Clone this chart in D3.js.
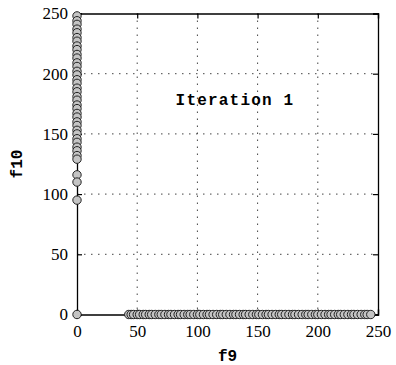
<!DOCTYPE html>
<html>
<head>
<meta charset="utf-8">
<script src="https://cdn.jsdelivr.net/npm/d3@7"></script>
<style>
  html, body { margin: 0; padding: 0; background: #fff; }
  svg { display: block; }
</style>
</head>
<body>
<script>
// Solutions lying on the f9 axis (f10 = 0)
const f9Branch = [43, 45, 47, 50, 52, 55, 57, 60, 62, 65, 68, 70, 73, 76, 78, 81, 84, 86, 89, 92,
  94, 97, 100, 102, 105, 108, 110, 113, 116, 119, 121, 124, 127, 130, 132, 135, 138, 140, 143, 146,
  149, 151, 154, 157, 159, 162, 165, 168, 170, 173, 176, 179, 181, 184, 187, 190, 192, 195, 198,
  200, 203, 206, 209, 211, 214, 217, 219, 222, 225, 228, 230, 233, 236, 239, 241, 244];
// Solutions lying on the f10 axis (f9 = 0)
const f10Branch = [248, 244, 241, 237, 234, 230, 227, 223, 220, 216, 213, 209, 206, 202, 199, 195,
  192, 188, 185, 181, 178, 174, 171, 167, 164, 160, 157, 153, 150, 146, 143, 139, 136, 132, 129,
  116, 110, 95];
// Single point at the origin
const originPoint = [0, 0];

const xTicks = [0, 50, 100, 150, 200, 250];
const yTicks = [0, 50, 100, 150, 200, 250];
const xLabel = "f9";
const yLabel = "f10";
const panelTitle = "Iteration 1";

const W = 396, H = 365;
const plotL = 77, plotR = 378, plotT = 13.5, plotB = 314.5;

const points = [originPoint]
  .concat(f9Branch.map(v => [v, 0]))
  .concat(f10Branch.map(v => [0, v]));

const x = d3.scaleLinear().domain([0, 250]).range([plotL, plotR]);
const y = d3.scaleLinear().domain([0, 250]).range([plotB, plotT]);

const svg = d3.select("body").append("svg")
  .attr("width", W).attr("height", H);

svg.append("rect").attr("width", W).attr("height", H).attr("fill", "#fff");

// dotted grid
const grid = svg.append("g").attr("stroke", "#444").attr("stroke-width", 1)
  .attr("stroke-dasharray", "1.5,5.5");
grid.selectAll("line.gx").data(xTicks.slice(1, -1)).join("line")
  .attr("class", "gx")
  .attr("x1", d => x(d)).attr("x2", d => x(d))
  .attr("y1", plotT).attr("y2", plotB);
grid.selectAll("line.gy").data(yTicks.slice(1, -1)).join("line")
  .attr("class", "gy")
  .attr("y1", d => y(d)).attr("y2", d => y(d))
  .attr("x1", plotL).attr("x2", plotR);

// axes with inward ticks on all four sides
const tickLen = 5;
const serif = "'Liberation Serif'";
const axisStyle = g => {
  g.attr("font-family", serif).attr("font-size", 17);
  g.select(".domain").attr("stroke", "#000").attr("stroke-width", 1.3);
  g.selectAll(".tick line").attr("stroke", "#000").attr("stroke-width", 1.2);
  g.selectAll(".tick text").attr("fill", "#000").attr("font-family", serif);
};
const gB = svg.append("g").attr("transform", `translate(0,${plotB})`)
  .call(d3.axisBottom(x).tickValues(xTicks).tickSize(-tickLen).tickPadding(9)).call(axisStyle);
const gT = svg.append("g").attr("transform", `translate(0,${plotT})`)
  .call(d3.axisTop(x).tickValues(xTicks).tickSize(-tickLen).tickFormat("")).call(axisStyle);
const gL = svg.append("g").attr("transform", `translate(${plotL},0)`)
  .call(d3.axisLeft(y).tickValues(yTicks).tickSize(-tickLen).tickPadding(9)).call(axisStyle);
const gR = svg.append("g").attr("transform", `translate(${plotR},0)`)
  .call(d3.axisRight(y).tickValues(yTicks).tickSize(-tickLen).tickFormat("")).call(axisStyle);
gB.selectAll(".tick text").attr("dy", "0.78em");

// scatter points
svg.append("g").selectAll("circle").data(points).join("circle")
  .attr("cx", d => x(d[0])).attr("cy", d => y(d[1]))
  .attr("r", 4.2)
  .attr("fill", "#c4c4c4")
  .attr("stroke", "#222")
  .attr("stroke-width", 1);

// titles
const mono = "'Liberation Mono'";
svg.append("text")
  .attr("x", (plotL + plotR) / 2).attr("y", 361)
  .attr("text-anchor", "middle")
  .attr("font-family", mono).attr("font-weight", "bold").attr("font-size", 16)
  .text(xLabel);
svg.append("text")
  .attr("transform", `translate(22,${(plotT + plotB) / 2}) rotate(-90)`)
  .attr("text-anchor", "middle")
  .attr("font-family", mono).attr("font-weight", "bold").attr("font-size", 16)
  .text(yLabel);
svg.append("text")
  .attr("x", 235).attr("y", 105)
  .attr("text-anchor", "middle")
  .attr("font-family", mono).attr("font-weight", "bold").attr("font-size", 16)
  .attr("letter-spacing", 1.2)
  .text(panelTitle);
</script>
</body>
</html>
